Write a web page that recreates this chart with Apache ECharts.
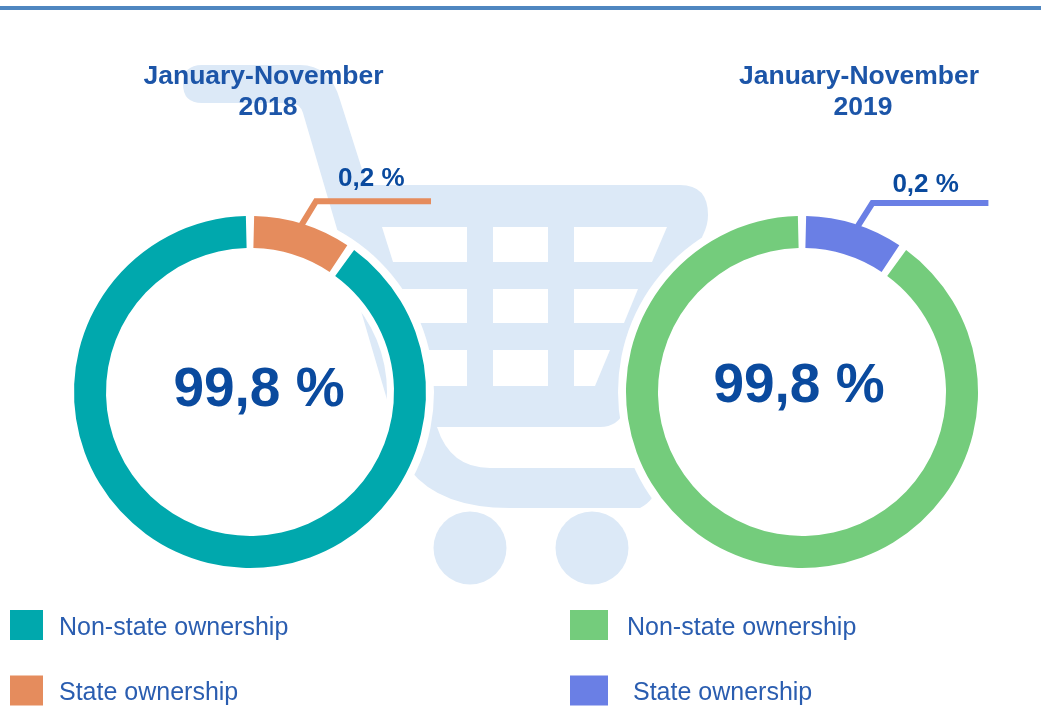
<!DOCTYPE html>
<html>
<head>
<meta charset="utf-8">
<title>Ownership</title>
<style>
  html, body { margin: 0; padding: 0; background: #fff; }
  #chart { width: 1041px; height: 707px; }
</style>
<script src="https://cdn.jsdelivr.net/npm/echarts@6/dist/echarts.min.js"></script>
</head>
<body>
<div id="chart"></div>
<script>
// slice sizes as they look in the picture, the printed shares are much smaller
const sliceNames = ["State ownership", "Non-state ownership"];
const slices2018 = [9.7, 90.3];
const slices2019 = [9.7, 90.3];
const periods = ["January-November", "January-November"];
const years = ["2018", "2019"];
const stateLabels = ["0,2 %", "0,2 %"];
const nonStateLabels = ["99,8 %", "99,8 %"];
const colors2018 = ["#e58c5d", "#00a8ad"];
const colors2019 = ["#6a7fe5", "#74cc7c"];

const FONT = '"Liberation Sans", Arial, sans-serif';
const CART = "#dce9f7";
const WHITE = "#fff";

const myChart = echarts.init(document.getElementById("chart"), null, { renderer: "canvas" });

const titleItem = (text, left, top, size, color) => ({
  text,
  left,
  top,
  textAlign: "center",
  textVerticalAlign: "middle",
  padding: 0,
  textStyle: { color, fontFamily: FONT, fontWeight: "bold", fontSize: size, lineHeight: size },
});

// white ring under each donut, it cuts the cart around the slices
const halo = (center) => ({
  type: "pie",
  silent: true,
  z: 1,
  center,
  radius: [137, 184],
  itemStyle: { color: WHITE },
  label: { show: false },
  labelLine: { show: false },
  emphasis: { disabled: true },
  data: [{ name: "halo", value: 1 }],
});

const donut = (values, colors, label, center, length, length2, back, lift, startShift, kinkShift) => ({
  type: "pie",
  silent: true,
  z: 2,
  center,
  radius: [144, 176],
  startAngle: 90,
  padAngle: 2.7,
  avoidLabelOverlap: false,
  emphasis: { disabled: true },
  labelLine: { length, length2, lineStyle: { width: 6 }, minTurnAngle: 0 },
  // text sits on top of the leader, and the leader is less steep than the radius
  labelLayout: (params) => {
    const p = params.labelLinePoints;
    if (!p) return {};
    return {
      dy: -lift,
      labelLinePoints: [
        [p[0][0] + startShift, p[0][1] + 2],
        [p[1][0] + kinkShift, p[1][1]],
        p[2],
      ],
    };
  },
  data: [
    {
      name: sliceNames[0],
      value: values[0],
      itemStyle: { color: colors[0] },
      label: {
        show: true,
        formatter: label,
        color: "#0a4a9e",
        fontFamily: FONT,
        fontWeight: "bold",
        fontSize: 26,
        distanceToLabelLine: back,
      },
    },
    {
      name: sliceNames[1],
      value: values[1],
      itemStyle: { color: colors[1] },
      label: { show: false },
      labelLine: { show: false },
    },
  ],
});

const legendItem = (name, color, paddingLeft) => ({
  name,
  icon: "rect",
  itemStyle: { color, borderWidth: 0 },
  textStyle: { padding: [6, 0, 0, paddingLeft] },
});

const legendBox = (left, itemWidth, items) => ({
  left,
  top: 610,
  orient: "vertical",
  itemWidth,
  itemHeight: 30,
  itemGap: 35,
  padding: 0,
  selectedMode: false,
  // rich text, plain text ignores the top padding when centred
  formatter: (name) => `{t|${name}}`,
  textStyle: {
    color: "#2a5db0",
    fontFamily: FONT,
    fontSize: 25,
    rich: { t: { color: "#2a5db0", fontFamily: FONT, fontSize: 25 } },
  },
  data: items,
});

// cart drawn as one block, the basket holes are white shapes on top of it
const cartPath =
  "M202,65 L300,65 Q330,65 340,100 L367,185 L680,185 Q708,185 708,215 Q708,225 703,235 " +
  "L625,410 Q618,427 600,427 L437,427 Q450,468 490,468 L640,468 Q655,468 655,488 " +
  "Q655,500 640,508 L510,508 Q440,508 410,470 L388,403 L303,113 Q300,103 290,103 " +
  "L202,103 Q183,103 183,84 Q183,65 202,65 Z";

const holes = [
  [[382, 227], [467, 227], [467, 262], [393, 262]],
  [[493, 227], [548, 227], [548, 262], [493, 262]],
  [[574, 227], [667, 227], [652, 262], [574, 262]],
  [[402, 289], [467, 289], [467, 323], [412, 323]],
  [[493, 289], [548, 289], [548, 323], [493, 323]],
  [[574, 289], [638, 289], [624, 323], [574, 323]],
  [[421, 350], [467, 350], [467, 386], [431, 386]],
  [[493, 350], [548, 350], [548, 386], [493, 386]],
  [[574, 350], [610, 350], [595, 386], [574, 386]],
];

const renderCart = () => ({
  type: "group",
  children: [
    { type: "path", shape: { pathData: cartPath, x: 183, y: 65, width: 525, height: 443, layout: "cover" }, style: { fill: CART } },
    ...holes.map((points) => ({ type: "polygon", shape: { points }, style: { fill: WHITE } })),
    { type: "circle", shape: { cx: 470, cy: 548, r: 36.5 }, style: { fill: CART } },
    { type: "circle", shape: { cx: 592, cy: 548, r: 36.5 }, style: { fill: CART } },
  ],
});

const option = {
  animation: false,
  backgroundColor: WHITE,
  title: [
    titleItem(periods[0], 263.5, 77, 26.5, "#1c55a8"),
    titleItem(years[0], 268, 108, 26.5, "#1c55a8"),
    titleItem(periods[1], 859, 77, 26.5, "#1c55a8"),
    titleItem(years[1], 863, 108, 26.5, "#1c55a8"),
    titleItem(nonStateLabels[0], 259, 391, 55, "#0a4a9e"),
    titleItem(nonStateLabels[1], 799, 387, 55, "#0a4a9e"),
  ],
  legend: [
    legendBox(10, 33, [
      legendItem(sliceNames[1], colors2018[1], 11),
      legendItem(sliceNames[0], colors2018[0], 11),
    ]),
    legendBox(570, 38, [
      legendItem(sliceNames[1], colors2019[1], 14),
      legendItem(sliceNames[0], colors2019[0], 20),
    ]),
  ],
  series: [
    { type: "custom", coordinateSystem: "none", silent: true, z: 0, data: [0], renderItem: renderCart },
    halo([250, 392]),
    halo([802, 392]),
    donut(slices2018, colors2018, stateLabels[0], [250, 392], 24, 121, -93, 22, -2, 6),
    donut(slices2019, colors2019, stateLabels[1], [802, 392], 22, 127, -96, 18, 3, 11),
  ],
  graphic: [
    { type: "rect", silent: true, shape: { x: 0, y: 6, width: 1041, height: 4 }, style: { fill: "#4f86c0" } },
  ],
};

myChart.setOption(option);
</script>
</body>
</html>
